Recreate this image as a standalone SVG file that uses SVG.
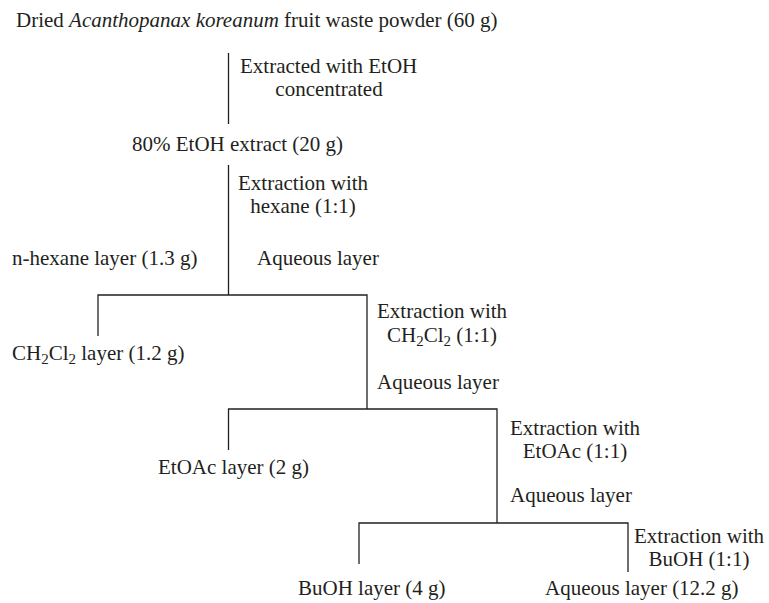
<svg xmlns="http://www.w3.org/2000/svg" width="769" height="603" viewBox="0 0 769 603">
<style>
text{font-family:"Liberation Serif","Times New Roman",serif;font-size:21px;fill:#231f20}
.c{text-anchor:middle}
.sub{font-size:15px}
#connectors path{fill:none;stroke:#231f20;stroke-width:1.3}
</style>
<rect width="769" height="603" fill="#fff"/>
<g id="connectors">
<path d="M228.5 53V124"/>
<path d="M228.5 165V295M98 336V295H367V409"/>
<path d="M228.5 450V409H497V523"/>
<path d="M359 564V523H628V572"/>
</g>
<g id="n-start"><text x="16" y="27">Dried <tspan font-style="italic">Acanthopanax koreanum</tspan> fruit waste powder (60 g)</text></g>
<g id="e-etoh"><text x="240" y="73">Extracted with EtOH</text><text class="c" x="329" y="96">concentrated</text></g>
<g id="n-extract"><text x="132" y="151">80% EtOH extract (20 g)</text></g>
<g id="e-hexane"><text x="238" y="190">Extraction with</text><text class="c" x="303" y="213">hexane (1:1)</text></g>
<g id="n-hexane"><text x="12" y="265">n-hexane layer (1.3 g)</text></g>
<g id="n-aq1"><text x="257" y="265">Aqueous layer</text></g>
<g id="n-ch2cl2"><text x="12" y="360">CH<tspan class="sub" dy="4">2</tspan><tspan dy="-4">Cl</tspan><tspan class="sub" dy="4">2</tspan><tspan dy="-4"> layer (1.2 g)</tspan></text></g>
<g id="e-ch2cl2"><text x="377" y="318">Extraction with</text><text class="c" x="442" y="342">CH<tspan class="sub" dy="4">2</tspan><tspan dy="-4">Cl</tspan><tspan class="sub" dy="4">2</tspan><tspan dy="-4"> (1:1)</tspan></text></g>
<g id="n-aq2"><text x="377" y="389">Aqueous layer</text></g>
<g id="n-etoac"><text x="158" y="474">EtOAc layer (2 g)</text></g>
<g id="e-etoac"><text x="510" y="435">Extraction with</text><text class="c" x="575" y="458">EtOAc (1:1)</text></g>
<g id="n-aq3"><text x="510" y="502">Aqueous layer</text></g>
<g id="e-buoh"><text x="634" y="543">Extraction with</text><text class="c" x="699" y="566">BuOH (1:1)</text></g>
<g id="n-buoh"><text x="298" y="595">BuOH layer (4 g)</text></g>
<g id="n-aq4"><text x="545" y="595">Aqueous layer (12.2 g)</text></g>
</svg>
